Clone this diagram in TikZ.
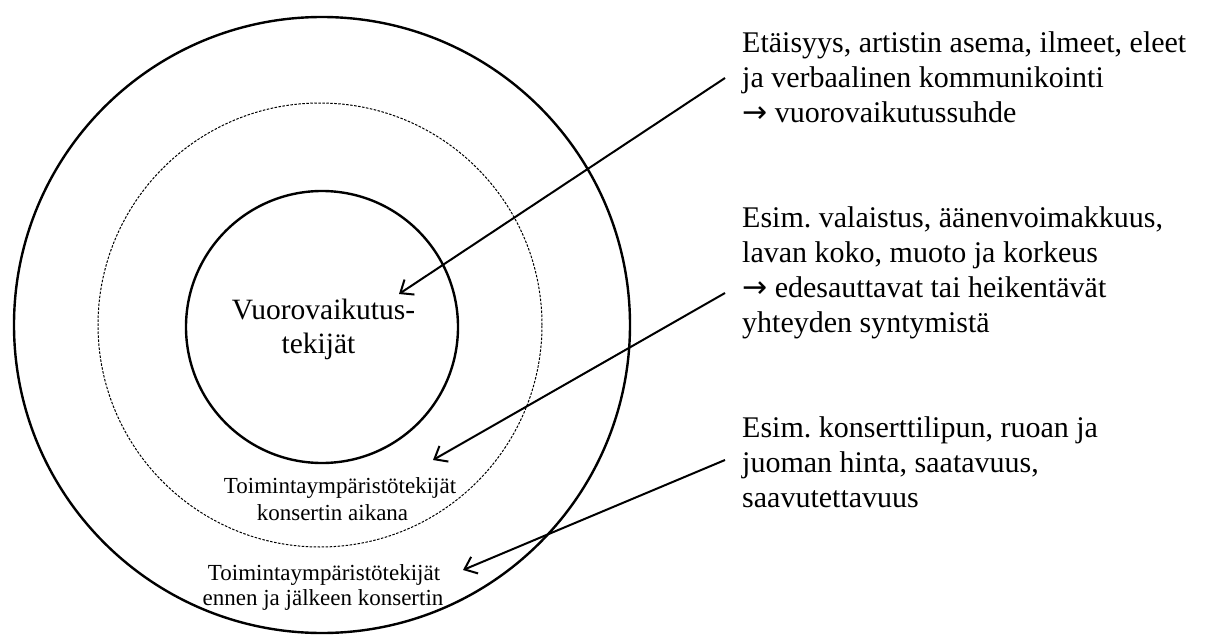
\documentclass[tikz,border=0pt]{standalone}
\usepackage{fontspec}
\setmainfont{Liberation Serif}
\newfontfamily\arrowglyph{DejaVu Sans}
\frenchspacing
\usetikzlibrary{arrows.meta}
\newcommand{\rarr}{{\arrowglyph →}}
\begin{document}
\begin{tikzpicture}[x=1pt,y=-1pt,
  ring/.style={circle, draw, line width=2.4pt, inner sep=0pt},
  dashring/.style={circle, draw, line width=1pt, dash pattern=on 2.5pt off 1.5pt, inner sep=0pt},
  pointer/.style={line width=2pt, -{Straight Barb[length=11pt,width=18pt]}},
  sidetext/.style={inner sep=0pt, font=\fontsize{30}{34}\selectfont, anchor=base west},
  coretext/.style={inner sep=0pt, font=\fontsize{29.5}{34}\selectfont, anchor=base},
  ringtext/.style={inner sep=0pt, font=\fontsize{23}{26}\selectfont, anchor=base}]
\useasboundingbox (0,0) rectangle (1208,637);

% concentric rings
\node[ring, minimum size=616pt] (outer) at (322,325) {};
\node[dashring, minimum size=444pt] (middle) at (320,325) {};
\node[ring, minimum size=272pt] (inner) at (322,327) {};

% ring labels
\node[coretext] (core1) at (323.5,319) {Vuorovaikutus-};
\node[coretext] (core2) at (318.5,353) {tekijät};
\node[ringtext] (mid1) at (340,493) {Toimintaympäristötekijät};
\node[ringtext] (mid2) at (332.5,520) {konsertin aikana};
\node[ringtext] (out1) at (324,580) {Toimintaympäristötekijät};
\node[ringtext] (out2) at (323,605) {ennen ja jälkeen konsertin};

% explanations on the right
\node[sidetext] (a1) at (742,52) {Etäisyys, artistin asema, ilmeet, eleet};
\node[sidetext] (a2) at (742,87) {ja verbaalinen kommunikointi};
\node[sidetext] (a3) at (742,122) {\rarr\ vuorovaikutussuhde};

\node[sidetext] (b1) at (742,227) {Esim. valaistus, äänenvoimakkuus,};
\node[sidetext] (b2) at (742,262) {lavan koko, muoto ja korkeus};
\node[sidetext] (b3) at (742,297) {\rarr\ edesauttavat tai heikentävät};
\node[sidetext] (b4) at (742,332) {yhteyden syntymistä};

\node[sidetext] (c1) at (742,437) {Esim. konserttilipun, ruoan ja};
\node[sidetext] (c2) at (742,472) {juoman hinta, saatavuus,};
\node[sidetext] (c3) at (742,507) {saavutettavuus};

% arrows from the explanations into the rings
\coordinate (s1) at (725,78);
\coordinate (t1) at (399,294);
\coordinate (s2) at (725,293);
\coordinate (t2) at (433,460);
\coordinate (s3) at (725,460);
\coordinate (t3) at (463,570);
\draw[pointer] (s1) -- (t1);
\draw[pointer] (s2) -- (t2);
\draw[pointer] (s3) -- (t3);
\end{tikzpicture}
\end{document}
